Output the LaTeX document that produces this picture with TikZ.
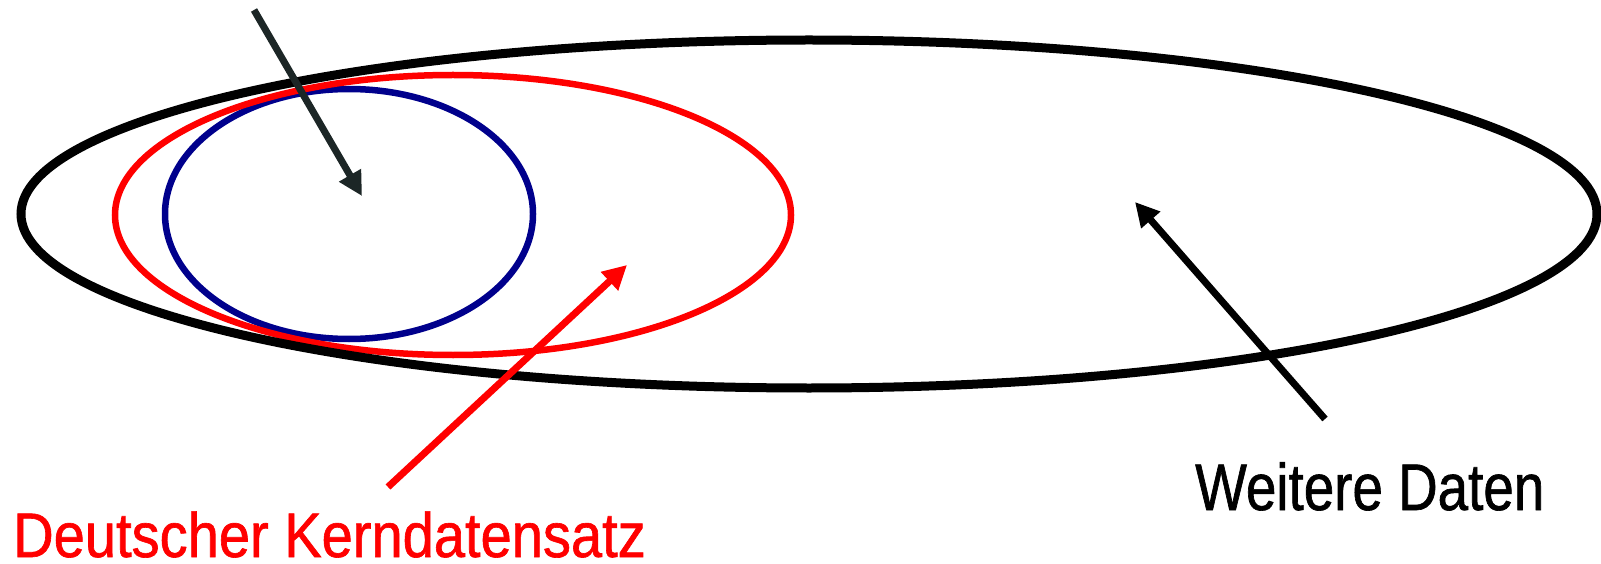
\documentclass[tikz,border=0pt]{standalone}
\usepackage{fontspec}
\newfontfamily\redfont{Liberation Sans}[FakeStretch=0.89,FakeBold=1]
\newfontfamily\blackfont{Liberation Sans}[FakeStretch=0.83,FakeBold=1]
\usetikzlibrary{arrows.meta}
\definecolor{navyblue}{RGB}{0,0,140}
\definecolor{darkarrow}{RGB}{28,38,38}
\tikzset{
  ring/.style={line width=6.5pt},
  pointer/.style={line width=7pt, -{Triangle[length=24pt,width=24pt]}},
  label/.style={inner sep=0pt, anchor=base west}
}
\begin{document}
\begin{tikzpicture}[x=1pt,y=-1pt]
\useasboundingbox (0,0) rectangle (1601,564);
\draw[ring, navyblue] (349,214) ellipse [x radius=184, y radius=125];
\draw[ring, red] (453,215) ellipse [x radius=338, y radius=140];
\draw[line width=9pt, black] (809,214) ellipse [x radius=788, y radius=174];
\node[label, text=red, font=\redfont\fontsize{63}{75}\selectfont] (kern) at (13,557) {Deutscher Kerndatensatz};
\node[label, text=black, font=\blackfont\fontsize{66}{78}\selectfont] (weitere) at (1195,510) {Weitere Daten};
\coordinate (topstart) at (254,10);
\coordinate (toptip) at (362,196);
\coordinate (redstart) at (388,487);
\coordinate (redtip) at (627,265);
\coordinate (blkstart) at (1325,419);
\coordinate (blktip) at (1135,202);
\draw[pointer, darkarrow] (topstart) -- (toptip);
\draw[pointer, red] (redstart) -- (redtip);
\draw[pointer, black] (blkstart) -- (blktip);
\end{tikzpicture}
\end{document}
